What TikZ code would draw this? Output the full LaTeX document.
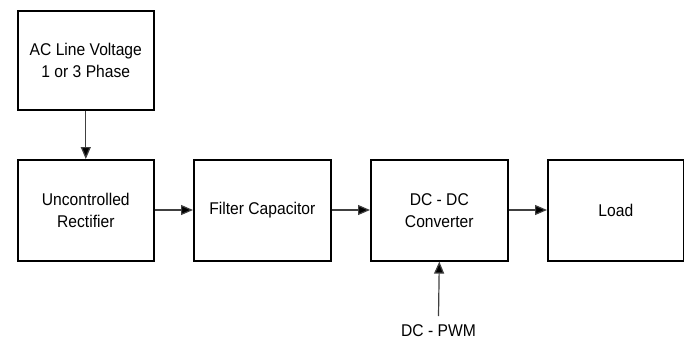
\documentclass[tikz,border=0pt]{standalone}
\usepackage{fontspec}
\setmainfont[FakeStretch=0.92]{Liberation Sans}
\usetikzlibrary{arrows.meta}
\begin{document}
\begin{tikzpicture}[x=1pt,y=-1pt,
  blockbox/.style={draw=black,line width=1.6pt,inner sep=0pt,anchor=north west,align=center,font=\fontsize{17}{22}\selectfont},
  conn/.style={draw=black!75,line width=1.2pt,-{Triangle[length=12pt,width=10pt,fill=black]}}]
\useasboundingbox (0,0) rectangle (684,350);
\node[blockbox,minimum width=136pt,minimum height=99pt] (ac) at (17,10) {AC Line Voltage\\ 1 or 3 Phase};
\node[blockbox,minimum width=136pt,minimum height=101pt] (rect) at (17,159) {Uncontrolled\\Rectifier};
\node[blockbox,minimum width=137pt,minimum height=101pt] (filt) at (193,159) {Filter Capacitor};
\node[blockbox,minimum width=137pt,minimum height=101pt] (dcdc) at (370,159) {DC - DC\\Converter};
\node[blockbox,minimum width=136pt,minimum height=101pt] (load) at (547,159) {Load};
\node[font=\fontsize{17}{22}\selectfont,inner sep=2pt,anchor=north] (pwm) at (438.5,322) {DC - PWM};
\coordinate (pwmtop) at (438.5,316);
\draw[conn] (ac.south) -- (rect.north);
\draw[conn] (rect.east |- 0,210) -- (filt.west |- 0,210);
\draw[conn] (filt.east |- 0,210) -- (dcdc.west |- 0,210);
\draw[conn] (dcdc.east |- 0,210) -- (load.west |- 0,210);
\draw[conn] (pwmtop) -- (dcdc.south);
\end{tikzpicture}
\end{document}
